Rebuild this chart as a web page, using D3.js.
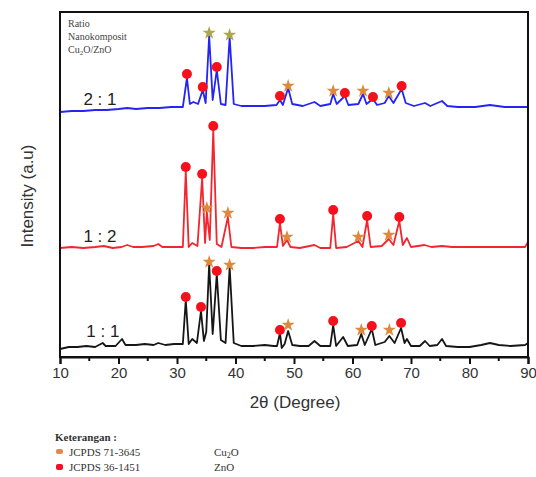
<!DOCTYPE html>
<html>
<head>
<meta charset="utf-8">
<style>
  body { margin: 0; background: #fff; }
  svg { display: block; }
</style>
</head>
<body>
<svg width="536" height="477"></svg>
<script src="https://d3js.org/d3.v7.min.js"></script>
<script>

// 2theta (degree), intensity (a.u., stacked as in the figure)
var trace11 = [
  [10,8],[11.5,10],[13,10],[14.5,11],[16,10],[17.3,14],[17.8,11],[19.5,11],[20.6,18],[21.2,12],
  [23,12],[24.5,13],[26,12],[26.8,14],[28,12],[29.5,13],[31,13],[31.5,57],[32,13],[32.6,18],
  [33.4,14],[34.1,46],[34.6,16],[35,25],[35.5,93],[36.1,23],[36.8,83],[37.5,17],[38.3,14],[39,90],
  [39.7,14],[41,11],[43,11],[45,12],[46.5,11],[47.1,11],[47.6,24],[47.9,9],[48.4,13],[49,26],
  [49.7,12],[51,11],[52.5,11],[53.5,16],[54.5,11],[56.2,11],[56.7,32],[57.2,11],[58.4,20],[59.2,11],
  [60.8,12],[61.5,23],[62.1,12],[63.3,28],[63.9,12],[65.5,15],[66.3,21],[67.2,14],[68.3,29],[68.9,14],
  [69.3,18],[70,11],[71.5,11],[72.4,16],[73.2,11],[74.5,12],[75.3,18],[76,11],[78,10],[80,10],
  [82,12],[83.5,14],[85,12],[87,11],[89.5,12],[90,14]
];
var trace12 = [
  [10,109],[12,110],[14,109],[16,110],[17.5,111],[19,109],[20.5,110],[21.5,112],[22.5,110],[24,110],
  [26,111],[26.8,113],[27.5,110],[29,110],[31,110],[31.5,186],[32,110],[32.6,114],[33.5,111],[34.3,179],
  [34.8,114],[35.1,145],[35.6,117],[36.2,227],[36.8,113],[37.6,110],[38.7,140],[39.3,110],[41,109],[43,109],
  [45,110],[47.1,110],[47.6,134],[48.1,111],[48.8,117],[49.4,110],[51,109],[53.5,112],[54.5,109],[56.2,109],
  [56.7,143],[57.2,109],[59,110],[61,116],[61.7,110],[62.5,137],[63.1,110],[65,111],[66.2,118],[67,112],
  [68,136],[68.6,112],[69.3,119],[70,110],[72.3,112],[73.5,110],[75.3,111],[77,110],[80,110],[83,110],
  [86,110],[89.5,110],[90,115]
];
var trace21 = [
  [10,245],[12,246],[14,246],[16,247],[18,247],[20,248],[21.5,249],[23,248],[25,249],[27,249],
  [29,250],[31,250],[31.7,279],[32.2,253],[32.8,255],[33.6,253],[34.4,267],[34.9,254],[35.5,321],[36.1,257],
  [36.8,287],[37.5,253],[38.3,252],[39,320],[39.7,253],[41,251],[43,251],[45,251],[47,252],[47.6,257],
  [48.1,252],[49,269],[49.7,253],[51.5,251],[53.5,255],[54.5,251],[56.2,253],[56.7,263],[57.3,253],[58.7,261],
  [59.3,252],[61,253],[61.8,263],[62.4,253],[63.5,258],[64.2,252],[65.5,254],[66.2,261],[67,254],[68.4,268],
  [69.1,254],[70.5,251],[72.4,254],[73.3,251],[75.3,256],[76.2,251],[78,250],[81,250],[83.5,252],[86,250],
  [90,250]
];

// phase markers: ZnO (JCPDS 36-1451) circles, Cu2O (JCPDS 71-3645) stars
var zno11 = [[31.5,60],[34.1,50],[36.8,86],[47.6,27],[56.7,36],[63.3,31],[68.3,34]];
var cu2o11 = [[35.5,95],[39,92],[49,32],[61.5,27],[66.3,27]];
var zno12 = [[31.5,190],[34.3,183],[36.2,231],[47.6,138],[56.7,147],[62.5,141],[68,140]];
var cu2o12 = [[35.1,149],[38.7,144],[48.8,120],[61,120],[66.2,122]];
var zno21 = [[31.7,283],[34.4,270],[36.8,290],[47.6,261],[58.7,264],[63.5,260],[68.4,271]];
var cu2o21 = [[35.5,324],[39,322],[49,271],[56.7,266],[61.8,266],[66.2,264]];

var ratioLabels = ["1 : 1", "1 : 2", "2 : 1"];
var ratioLabelPos = [[14.5,20], [14,115], [14,252]];
var xTicks = [10,20,30,40,50,60,70,80,90];
var xMinor = [15,25,35,45,55,65,75,85];

var svg = d3.select("svg");
var mLeft = 60, mRight = 528, mTop = 12, mBottom = 357;

var x = d3.scaleLinear().domain([10, 90]).range([mLeft, mRight]);
var y = d3.scaleLinear().domain([0, 345]).range([mBottom, mTop]);

var line = d3.line()
    .x(function(d) { return x(d[0]); })
    .y(function(d) { return y(d[1]); });

var series = [
  {data: trace11, color: "#161616", zno: zno11, cu: cu2o11},
  {data: trace12, color: "#f2262e", zno: zno12, cu: cu2o12},
  {data: trace21, color: "#2424f4", zno: zno21, cu: cu2o21}
];

series.forEach(function(s) {
  svg.append("path")
      .attr("d", line(s.data))
      .attr("fill", "none")
      .attr("stroke", s.color)
      .attr("stroke-width", 1.8)
      .attr("stroke-linejoin", "round");
});

var star = d3.symbol().type(d3.symbolStar).size(55);

series.forEach(function(s, i) {
  svg.selectAll(null)
    .data(s.zno)
    .enter().append("circle")
      .attr("cx", function(d) { return x(d[0]); })
      .attr("cy", function(d) { return y(d[1]); })
      .attr("r", 5)
      .attr("fill", "#f5101c");
  svg.selectAll(null)
    .data(s.cu)
    .enter().append("path")
      .attr("d", star)
      .attr("transform", function(d) { return "translate(" + x(d[0]) + "," + y(d[1]) + ")"; })
      .attr("fill", function(d) { return (i == 2 && d[1] > 300) ? "#aaa84a" : "#dd8a3e"; });
});

// frame
svg.append("rect")
    .attr("x", mLeft).attr("y", mTop)
    .attr("width", mRight - mLeft).attr("height", mBottom - mTop)
    .attr("fill", "none")
    .attr("stroke", "#111")
    .attr("stroke-width", 2);

var xAxis = d3.axisBottom(x).tickValues(xTicks).tickSize(7).tickPadding(3).tickFormat(d3.format("d"));
var gx = svg.append("g").attr("transform", "translate(0," + mBottom + ")").call(xAxis);
gx.select(".domain").attr("stroke-width", 2).attr("stroke", "#111");
gx.selectAll(".tick line").attr("stroke-width", 2).attr("stroke", "#111");
gx.selectAll(".tick text")
    .attr("font-family", "Arial, 'Liberation Sans', sans-serif")
    .attr("font-size", 15)
    .attr("fill", "#333");

svg.append("g").selectAll("line")
    .data(xMinor)
    .enter().append("line")
      .attr("x1", function(d) { return x(d); })
      .attr("x2", function(d) { return x(d); })
      .attr("y1", mBottom)
      .attr("y2", mBottom + 4)
      .attr("stroke", "#111")
      .attr("stroke-width", 2);

svg.selectAll(null)
  .data(ratioLabels)
  .enter().append("text")
    .attr("x", function(d, i) { return x(ratioLabelPos[i][0]); })
    .attr("y", function(d, i) { return y(ratioLabelPos[i][1]); })
    .attr("font-family", "Arial, 'Liberation Sans', sans-serif")
    .attr("font-size", 17)
    .attr("fill", "#222")
    .text(function(d) { return d; });

svg.append("text")
    .attr("x", 295).attr("y", 408)
    .attr("text-anchor", "middle")
    .attr("font-family", "Arial, 'Liberation Sans', sans-serif")
    .attr("font-size", 17)
    .attr("fill", "#333")
    .text("2θ (Degree)");

svg.append("text")
    .attr("transform", "translate(33,196) rotate(-90)")
    .attr("text-anchor", "middle")
    .attr("font-family", "Arial, 'Liberation Sans', sans-serif")
    .attr("font-size", 17)
    .attr("fill", "#333")
    .text("Intensity (a.u)");

// inset note
var note = svg.append("text")
    .attr("font-family", "'Liberation Serif', 'Times New Roman', serif")
    .attr("font-size", 10)
    .attr("fill", "#444");
note.append("tspan").attr("x", 68).attr("y", 27).text("Ratio");
note.append("tspan").attr("x", 68).attr("y", 40).text("Nanokomposit");
var t3 = note.append("tspan").attr("x", 68).attr("y", 53);
t3.append("tspan").text("Cu");
t3.append("tspan").attr("font-size", 7).attr("dy", 2).text("2");
t3.append("tspan").attr("dy", -2).text("O/ZnO");

// legend
var lg = svg.append("g")
    .attr("font-family", "'Liberation Serif', 'Times New Roman', serif")
    .attr("font-size", 11)
    .attr("fill", "#333");
lg.append("text").attr("x", 55).attr("y", 441).attr("font-weight", "bold").text("Keterangan :");
lg.append("rect").attr("x", 56).attr("y", 449).attr("width", 7).attr("height", 5).attr("rx", 2).attr("fill", "#e0894a");
lg.append("text").attr("x", 69).attr("y", 456).text("JCPDS 71-3645");
var cu = lg.append("text").attr("x", 214).attr("y", 456);
cu.append("tspan").text("Cu");
cu.append("tspan").attr("font-size", 8).attr("dy", 2).text("2");
cu.append("tspan").attr("dy", -2).text("O");
lg.append("rect").attr("x", 56).attr("y", 464).attr("width", 7).attr("height", 6).attr("rx", 2).attr("fill", "#f0102a");
lg.append("text").attr("x", 69).attr("y", 471).text("JCPDS 36-1451");
lg.append("text").attr("x", 214).attr("y", 471).text("ZnO");

</script>
</body>
</html>
